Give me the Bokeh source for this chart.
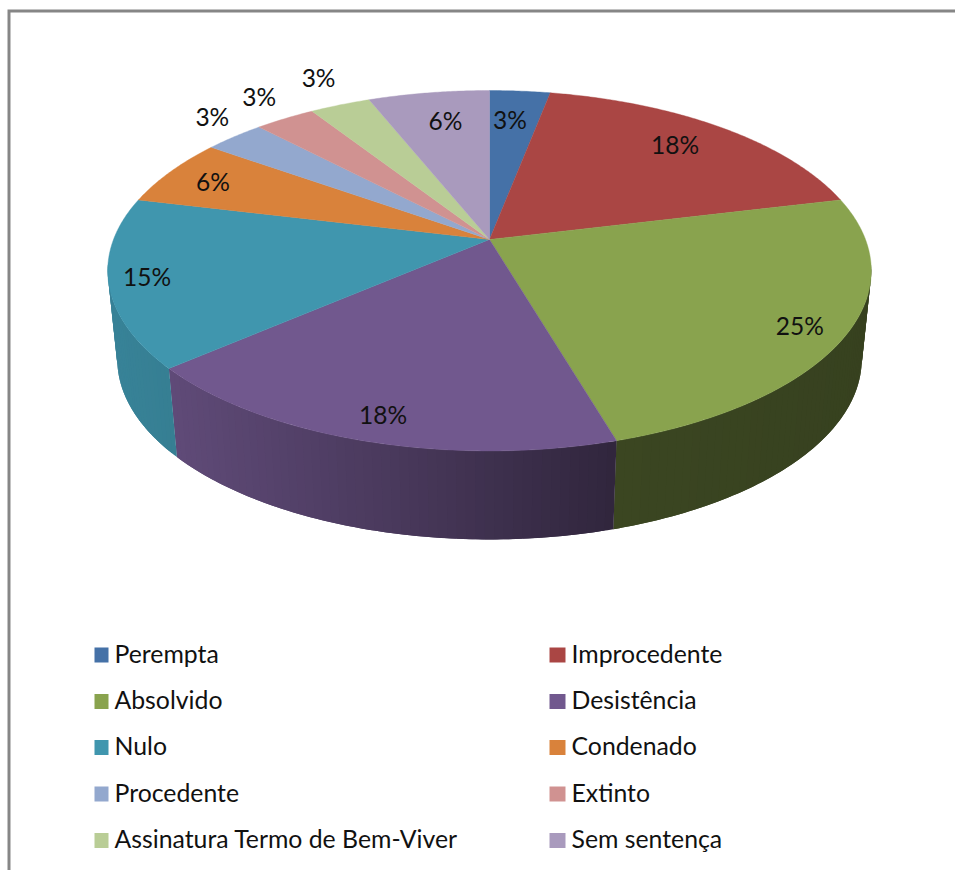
import numpy as np
from bokeh.plotting import figure
from bokeh.models import Range1d
from bokeh.core.properties import value
from bokeh.embed import file_html
from bokeh.resources import INLINE

# ---- data ----
categories = ["Perempta", "Improcedente", "Absolvido", "Desistência", "Nulo",
              "Condenado", "Procedente", "Extinto",
              "Assinatura Termo de Bem-Viver", "Sem sentença"]
counts = [1, 6, 8, 6, 5, 2, 1, 1, 1, 2]
percent_labels = ["3%", "18%", "25%", "18%", "15%", "6%", "3%", "3%", "3%", "6%"]
colors = ["#4571a7", "#aa4644", "#89a34e", "#71588e", "#4096ae",
          "#d9823b", "#93a8ce", "#d09291", "#b9cd96", "#a99abd"]

# ---- layout / style ----
CX, CY = 489.0, 239.0            # projected pie centre
A, B, K = 376.0, 174.8, 0.1733   # perspective projection of the disc
DEPTH, XSCALE = 88.5, 0.975      # pie thickness
LABEL_R = [.773, .804, .888, .889, .90, .855, 1.155, 1.18, 1.22, .782]
LABEL_DX = [-4, -4, -3, 4, -1, -1, 13, 6, 6, 5]
LABEL_DY = [-1, -3, 2, 0, -2, 0, -6, -3, -2, -1]
LEGEND_X = [(94, 108, 114), (549, 565, 571)]
LEGEND_Y = [654.5, 701, 747, 793.5, 840]
LEGEND_TEXT_DY = -2
SHADE_X = [110, 175, 400, 613, 870]
SHADE_F = [.87, .84, .64, .43, .40]
FONT = "Lato"


def project(theta, r=1.0):
    X, Y = r * np.sin(theta), r * np.cos(theta)
    d = 1 + K * Y
    return CX + A * X / d, CY - B * Y / d


def bottom(x, y):
    return CX + XSCALE * (x - CX), y + DEPTH


def shade(hex_color, f):
    rgb = [int(hex_color[i:i + 2], 16) for i in (1, 3, 5)]
    return "#%02x%02x%02x" % tuple(int(round(c * f)) for c in rgb)


p = figure(width=955, height=870, output_backend="svg", toolbar_location=None,
           x_range=Range1d(0, 955), y_range=Range1d(870, 0),
           min_border=0, outline_line_color=None, background_fill_color="white",
           border_fill_color="white")
p.axis.visible = False
p.grid.visible = False

# chart frame
p.line(x=[8.5, 8.5, 955], y=[870, 10.5, 10.5], line_color="#868686", line_width=3,
       line_join="miter")

# slice boundaries from the values
fr = np.cumsum([0] + counts) / sum(counts)
edges = fr * 2 * np.pi
VIS0, VIS1 = np.radians(98), np.radians(262)

# side wall: strips overlap the next one so no seams show
wx, wy, wc = [], [], []
for i, col in enumerate(colors):
    a0, a1 = max(edges[i], VIS0), min(edges[i + 1], VIS1)
    if a1 <= a0:
        continue
    n = max(2, int((a1 - a0) / np.radians(1.2)))
    ts = np.linspace(a0, a1, n + 1)
    for j in range(n):
        t0, t1 = ts[j], ts[min(j + 2, n)]
        sub = np.linspace(t0, t1, 4)
        x, y = project(sub)
        bx, by = bottom(x, y)
        wx.append(list(x) + list(bx[::-1]))
        wy.append(list(y) + list(by[::-1]))
        xm, _ = project((ts[j] + ts[j + 1]) / 2)
        wc.append(shade(col, float(np.interp(xm, SHADE_X, SHADE_F))))
p.patches(wx, wy, fill_color=wc, line_color=None)

# top face
tx, ty = [], []
for i in range(len(counts)):
    ts = np.linspace(edges[i], edges[i + 1], max(3, counts[i] * 24))
    x, y = project(ts)
    tx.append([CX] + list(x))
    ty.append([CY] + list(y))
p.patches(tx, ty, fill_color=colors, line_color=colors, line_width=0.4)

# data labels
mids = (edges[:-1] + edges[1:]) / 2
lx, ly = project(mids, np.array(LABEL_R))
p.text(x=list(lx + np.array(LABEL_DX)), y=list(ly + np.array(LABEL_DY)),
       text=percent_labels, text_font=value(FONT),
       text_font_size="24.5px", text_color="#111111", text_align="center",
       text_baseline="middle")

# legend
for i, name in enumerate(categories):
    col = i % 2
    row = i // 2
    x0, x1, xt = LEGEND_X[col]
    yc = LEGEND_Y[row]
    p.quad(left=[x0], right=[x1], top=[yc - 7.5], bottom=[yc + 7.5],
           fill_color=colors[i], line_color=None)
    p.text(x=[xt], y=[yc + LEGEND_TEXT_DY], text=[name], text_font=value(FONT),
           text_font_size="24.8px", text_color="#111111", text_align="left",
           text_baseline="middle")

open("out.html", "w").write(file_html(p, INLINE))
